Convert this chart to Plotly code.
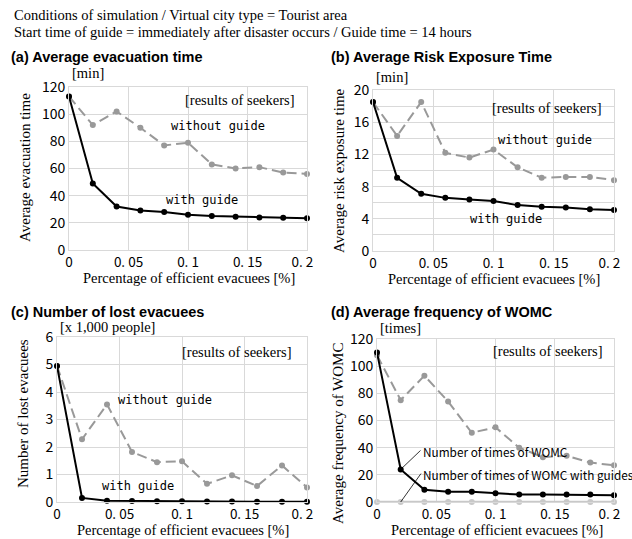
import plotly.graph_objects as go

# ---------------- data ----------------
x_vals = [0, 0.02, 0.04, 0.06, 0.08, 0.10, 0.12, 0.14, 0.16, 0.18, 0.20]
x_tickvals = [0, 0.05, 0.1, 0.15, 0.2]
NBSP = "\u00a0"
x_ticktext = ["0", "0. 05", "0. 1", "0. 15", "0. 2" + NBSP * 3]

evac_without = [113, 92, 102, 90, 77, 79, 63, 60, 61, 57, 56]
evac_with = [113, 49, 32, 29, 28, 26, 25, 24.5, 24, 23.8, 23.3]

risk_without = [18.5, 14.3, 18.5, 12.2, 11.6, 12.6, 10.4, 9.1, 9.2, 9.2, 8.8]
risk_with = [18.5, 9.1, 7.1, 6.6, 6.4, 6.2, 5.7, 5.5, 5.4, 5.2, 5.1]

lost_without = [4.95, 2.28, 3.55, 1.82, 1.45, 1.48, 0.66, 0.97, 0.58, 1.33, 0.53]
lost_with = [4.95, 0.15, 0.05, 0.04, 0.03, 0.03, 0.02, 0.02, 0.01, 0.01, 0.01]

womc_without = [108, 75, 93, 74, 51, 55, 40, 33, 34, 29, 27]
womc_with = [110, 24, 9, 7.5, 7.5, 6.5, 5.5, 5.5, 5.5, 5.5, 5]
womc_guides = [0, 0, 0, 0, 0, 0, 0, 0, 0, 0, 0]

titles = ["(a) Average evacuation time", "(b) Average Risk Exposure Time",
          "(c) Number of lost evacuees", "(d) Average frequency of WOMC"]
y_titles = ["Average evacuation time", "Average risk exposure time",
            "Number of lost evacuees", "Average frequency of WOMC"]
units = ["[min]", "[min]", "[x 1,000 people]", "[times]"]
x_title = "Percentage of efficient evacuees [%]"
header1 = "Conditions of simulation / Virtual city type = Tourist area"
header2 = "Start time of guide = immediately after disaster occurs / Guide time = 14 hours"
seekers = "[results of seekers]"
lbl_without = "without guide"
lbl_with = "with guide"
lbl_womc = "Number of times of WOMC"
lbl_womc_g = "Number of times of WOMC with guides"

# ---------------- layout geometry (pixels) ----------------
W, H = 632, 539
# (left, right, top, bottom) of each plot area
boxes = [(69, 307, 87, 250), (373, 614, 90, 251), (57, 307, 337, 502), (377, 614, 339, 502)]
y_ranges = [[0, 120], [0, 20], [0, 6], [0, 120]]
y_dticks = [20, 4, 1, 20]
y_minor = [None, 2, None, None]
unit_y = [73, 77, 327, 328]

SERIF = "Liberation Serif, Times New Roman, serif"
SANS = "Liberation Sans, Arial, sans-serif"
TICK = "Noto Sans CJK JP, Liberation Sans, sans-serif"
MONO = "DejaVu Sans Mono, monospace"
GRID = "#d9d9d9"
DARK_GRAY = "#999999"
LIGHT_GRAY = "#c8c8c8"

fig = go.Figure()

series = [
    (evac_without, evac_with),
    (risk_without, risk_with),
    (lost_without, lost_with),
    (womc_without, womc_with),
]

for i, (s_wo, s_w) in enumerate(series):
    xa = "x" if i == 0 else f"x{i+1}"
    ya = "y" if i == 0 else f"y{i+1}"
    if i == 3:
        fig.add_trace(go.Scatter(x=x_vals, y=womc_guides, mode="lines+markers",
                                 line=dict(color=LIGHT_GRAY, width=2.5),
                                 marker=dict(color=LIGHT_GRAY, size=6),
                                 xaxis=xa, yaxis=ya, showlegend=False, cliponaxis=False))
    fig.add_trace(go.Scatter(x=x_vals, y=s_wo, mode="lines+markers",
                             line=dict(color=DARK_GRAY, width=2, dash="10px,5px"),
                             marker=dict(color=DARK_GRAY, size=6),
                             xaxis=xa, yaxis=ya, showlegend=False, cliponaxis=False))
    fig.add_trace(go.Scatter(x=x_vals, y=s_w, mode="lines+markers",
                             line=dict(color="black", width=2),
                             marker=dict(color="black", size=6),
                             xaxis=xa, yaxis=ya, showlegend=False, cliponaxis=False))

layout = dict(width=W, height=H, margin=dict(l=0, r=0, t=0, b=0, autoexpand=False),
              paper_bgcolor="white", plot_bgcolor="white", showlegend=False)

yt_pos = [(25, 168), (339, 171), (23, 414), (338, 434)]

annotations = []
for i, (l, r, t, b) in enumerate(boxes):
    xk = "xaxis" if i == 0 else f"xaxis{i+1}"
    yk = "yaxis" if i == 0 else f"yaxis{i+1}"
    ya = "y" if i == 0 else f"y{i+1}"
    xa = "x" if i == 0 else f"x{i+1}"
    layout[xk] = dict(domain=[l / W, r / W], range=[0, 0.2], anchor=ya,
                      tickvals=x_tickvals, ticktext=x_ticktext,
                      showgrid=True, gridcolor=GRID, gridwidth=1,
                      showline=True, linecolor=GRID, linewidth=1, mirror=True,
                      zeroline=False, ticks="", automargin=False,
                      tickfont=dict(family=TICK, size=13.5, color="black"))
    ydict = dict(domain=[1 - b / H, 1 - t / H], range=y_ranges[i], anchor=xa,
                 dtick=y_dticks[i], tick0=0,
                 showgrid=True, gridcolor=GRID, gridwidth=1,
                 showline=True, linecolor=GRID, linewidth=1, mirror=True,
                 zeroline=False, ticks="", automargin=False,
                 tickfont=dict(family=TICK, size=14, color="black"))
    if y_minor[i]:
        ydict["minor"] = dict(dtick=y_minor[i], showgrid=True, gridcolor=GRID, gridwidth=1)
    layout[yk] = ydict

    # panel title
    tx = 9 if i in (0, 2) else 329
    ty = 57 if i in (0, 1) else 312
    annotations.append(dict(text=f"<b>{titles[i]}</b>", x=tx / W, y=1 - ty / H,
                            xref="paper", yref="paper", xanchor="left", yanchor="middle",
                            showarrow=False, font=dict(family=SANS, size=14.5, color="black")))
    # unit label
    annotations.append(dict(text=units[i], x=(l + 1) / W, y=1 - unit_y[i] / H,
                            xref="paper", yref="paper", xanchor="left", yanchor="middle",
                            showarrow=False, font=dict(family=SERIF, size=14.5, color="black")))
    # y title
    annotations.append(dict(text=y_titles[i], x=yt_pos[i][0] / W, y=1 - yt_pos[i][1] / H,
                            xref="paper", yref="paper", xanchor="center", yanchor="middle",
                            textangle=-90, showarrow=False,
                            font=dict(family=SERIF, size=15, color="black")))
    # x title
    annotations.append(dict(text=x_title, x=((l + r) / 2 + 1) / W, y=1 - (b + 28) / H,
                            xref="paper", yref="paper", xanchor="center", yanchor="middle",
                            showarrow=False, borderpad=0,
                            font=dict(family=SERIF, size=14.5, color="black")))
    # results of seekers
    seek_y = [110.5, 17.8, 5.45, 111][i]
    annotations.append(dict(text=seekers, x=0.144, y=seek_y, xref=xa, yref=ya,
                            xanchor="center", yanchor="middle", showarrow=False,
                            font=dict(family=SERIF, size=14.5, color="black")))

# series labels (data coordinates)
lbl_pos = [
    ((0.125, 91), (0.112, 37)),
    ((0.143, 13.8), (0.110, 4.0)),
    ((0.086, 3.72), (0.065, 0.6)),
]
for i, (p_wo, p_w) in enumerate(lbl_pos):
    xa = "x" if i == 0 else f"x{i+1}"
    ya = "y" if i == 0 else f"y{i+1}"
    annotations.append(dict(text=lbl_without, x=p_wo[0], y=p_wo[1], xref=xa, yref=ya,
                            showarrow=False, font=dict(family=MONO, size=12, color="black")))
    annotations.append(dict(text=lbl_with, x=p_w[0], y=p_w[1], xref=xa, yref=ya,
                            showarrow=False, font=dict(family=MONO, size=12, color="black")))

# (d) labels with leader lines
womc_label_x = 0.037
womc_label_y = [37, 20]
leader_tip = [(0.02, 24), (0.02, 0)]
for txt, ly, tip in zip([lbl_womc, lbl_womc_g], womc_label_y, leader_tip):
    annotations.append(dict(text=txt, x=womc_label_x, y=ly, xref="x4", yref="y4",
                            xanchor="left", yanchor="middle", showarrow=False,
                            font=dict(family=TICK, size=11.8, color="black")))
    annotations.append(dict(text="", x=tip[0], y=tip[1], ax=womc_label_x + 0.001, ay=ly + 2,
                            xref="x4", yref="y4", axref="x4", ayref="y4",
                            showarrow=True, arrowhead=0, arrowwidth=0.8, arrowcolor="black"))

# header
annotations.append(dict(text=header1, x=12 / W, y=1 - 15 / H, xref="paper", yref="paper",
                        xanchor="left", yanchor="middle", showarrow=False,
                        font=dict(family=SERIF, size=14.5, color="black")))
annotations.append(dict(text=header2, x=12 / W, y=1 - 32 / H, xref="paper", yref="paper",
                        xanchor="left", yanchor="middle", showarrow=False,
                        font=dict(family=SERIF, size=14.5, color="black")))

layout["annotations"] = annotations
fig.update_layout(**layout)
fig.write_html("out.html", config={"displayModeBar": False},
               post_script="document.body.style.margin='0px';document.body.style.overflow='hidden';")
